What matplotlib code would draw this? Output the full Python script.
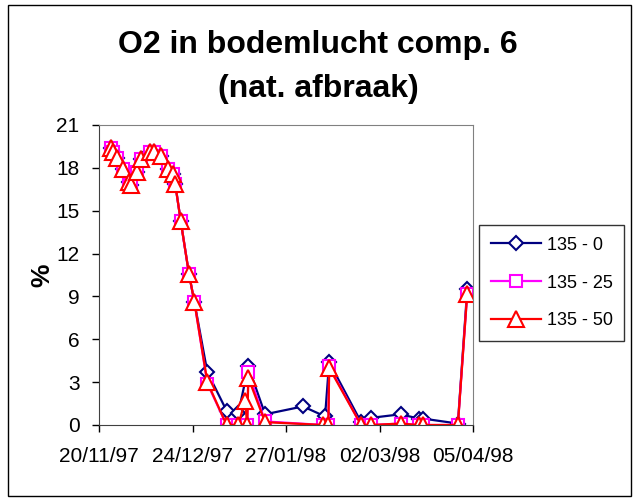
import matplotlib
matplotlib.use("Agg")
import matplotlib.pyplot as plt
from matplotlib.patches import Rectangle

plt.rcParams['font.family'] = ['Liberation Sans', 'DejaVu Sans']

# days after 20/11/97
early_days = [4.3, 5.2, 6.4, 8.6, 11.0, 11.5, 13.9, 15.2, 18.5, 20.1, 22.4,
              25.2, 27.0, 27.7, 29.7, 32.7, 34.7]
early_vals = [19.4, 19.1, 18.7, 17.9, 17.0, 16.8, 17.7, 18.6, 19.1, 19.1, 18.8,
              17.9, 17.6, 16.9, 14.3, 10.6, 8.6]

days_0 = early_days + [39.4, 46.4, 50.7, 54.3, 60.4, 74.2, 82.2, 83.7, 95.3,
                       98.9, 109.7, 116.2, 117.8, 130.5, 133.9]
vals_0 = early_vals + [3.7, 1.0, 0.85, 4.1, 0.75, 1.3, 0.6, 4.4, 0.2,
                       0.5, 0.75, 0.45, 0.45, 0.1, 9.5]

days_25 = early_days + [39.4, 46.4, 50.7, 53.9, 54.3, 60.4, 81.6, 83.4, 83.7,
                        95.3, 98.9, 109.7, 116.2, 117.8, 130.5, 133.9]
vals_25 = early_vals + [2.9, 0.0, 0.0, 0.0, 3.7, 0.25, 0.0, 0.0, 4.1,
                        0.0, 0.0, 0.1, 0.0, 0.0, 0.0, 9.2]

days_50 = early_days + [39.4, 46.4, 50.7, 53.1, 53.9, 54.3, 60.4, 81.6, 83.4,
                        83.7, 95.3, 98.9, 109.7, 116.2, 117.8, 130.5, 133.9]
vals_50 = early_vals + [3.0, 0.0, 0.0, 1.7, 0.0, 3.3, 0.2, 0.0, 0.0,
                        4.0, 0.0, 0.0, 0.1, 0.0, 0.0, 0.0, 9.2]

tick_days = [0, 34, 68, 102, 136]
tick_labels = ['20/11/97', '24/12/97', '27/01/98', '02/03/98', '05/04/98']

fig = plt.figure(figsize=(6.37, 5.01), dpi=100)
fig.patches.append(Rectangle((8 / 637, 5 / 501), 623 / 637, 491 / 501,
                             transform=fig.transFigure, fill=False,
                             edgecolor='black', linewidth=1))

ax = fig.add_axes([99 / 637, 1 - 425 / 501, 374 / 637, 300 / 501])

ax.plot(days_0, vals_0, color='#000080', linewidth=1.6, marker='D',
        markersize=7, markerfacecolor='white', markeredgecolor='#000080',
        markeredgewidth=1.5, label='135 - 0')
ax.plot(days_25, vals_25, color='#FF00FF', linewidth=1.6, marker='s',
        markersize=9, markerfacecolor='white', markeredgecolor='#FF00FF',
        markeredgewidth=1.5, label='135 - 25')
ax.plot(days_50, vals_50, color='#FF0000', linewidth=1.6, marker='^',
        markersize=11, markerfacecolor='white', markeredgecolor='#FF0000',
        markeredgewidth=1.5, label='135 - 50')

ax.set_xlim(0, 136)
ax.set_ylim(0, 21)
ax.set_yticks(range(0, 22, 3))
ax.set_xticks(tick_days)
ax.set_xticklabels(tick_labels)
ax.tick_params(labelsize=15, direction='out', length=5, width=1)
ax.tick_params(axis='y', pad=9)
ax.tick_params(axis='x', pad=11)
for s in ['top', 'right']:
    ax.spines[s].set_color('#808080')
for s in ['left', 'bottom']:
    ax.spines[s].set_color('#404040')
ax.set_ylabel('%', fontsize=19, fontweight='bold')
ax.yaxis.set_label_coords(-0.12, 0.5)

fig.text(318 / 637, 1 - 67 / 501, 'O2 in bodemlucht comp. 6\n(nat. afbraak)',
         ha='center', va='center', fontsize=23, fontweight='bold',
         linespacing=1.6)

leg = fig.legend(loc='upper left', bbox_to_anchor=(479 / 637, 1 - 225 / 501),
                 fontsize=13, frameon=True, fancybox=False, edgecolor='black',
                 handlelength=2.8, labelspacing=1.15, borderpad=0.65,
                 handletextpad=0.3, borderaxespad=0)
leg.get_frame().set_linewidth(1)

fig.savefig('out.png', dpi=100)
